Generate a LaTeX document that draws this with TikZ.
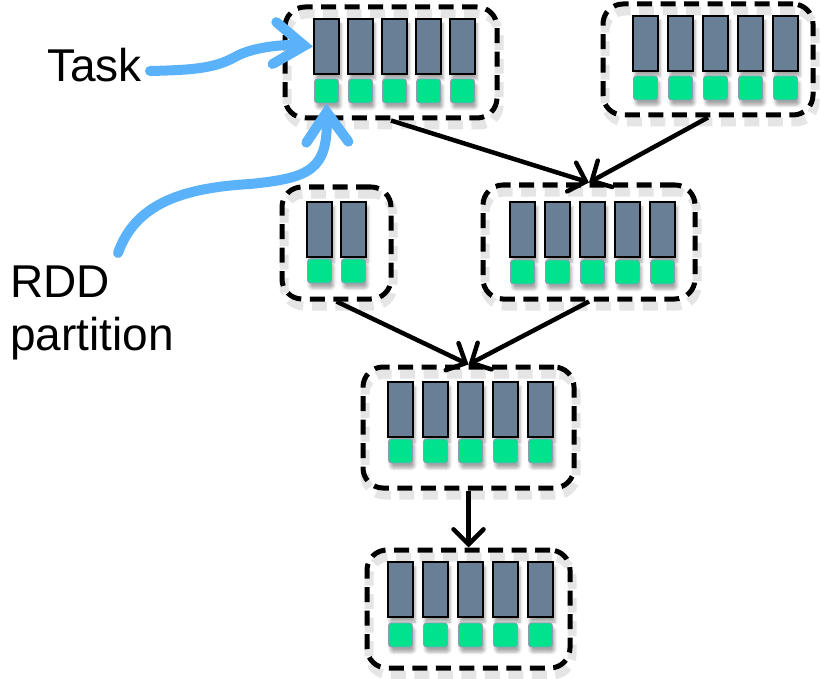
\documentclass[tikz,border=0pt]{standalone}
\usepackage{fontspec}
\setmainfont{Liberation Sans}
\usetikzlibrary{arrows.meta,shadows,shadows.blur}
\definecolor{barc}{HTML}{687F96}
\definecolor{grn}{HTML}{00E28C}
\definecolor{blu}{HTML}{5AB2FA}
\definecolor{grnedge}{HTML}{8A9CB8}
\tikzset{
  grp/.style={draw=black, line width=5pt, dash pattern=on 15pt off 8.5pt,
    rounded corners=20pt, inner sep=0pt,
    preaction={draw=black!10, line width=9pt, dash pattern=on 15pt off 8.5pt,
      transform canvas={shift={(2pt,-7pt)}}}},
  barbox/.style={draw=black, line width=2pt, fill=barc, inner sep=0pt,
    minimum width=25pt, minimum height=55pt,
    blur shadow={shadow xshift=2pt, shadow yshift=-5pt, shadow blur radius=3pt, shadow opacity=35}},
  grnbox/.style={draw=grnedge, line width=0.9pt, fill=grn, rounded corners=3pt,
    inner sep=0pt, minimum width=24pt, minimum height=24pt,
    blur shadow={shadow xshift=2pt, shadow yshift=-5pt, shadow blur radius=3pt, shadow opacity=35}},
  blk/.style={draw=black, line width=4.5pt,
    -{Straight Barb[length=15pt,width=30pt,line cap=round]}},
  bluarrow/.style={draw=blu, line width=10pt, line cap=round,
    -{Straight Barb[length=30pt,width=42pt,line cap=round]}},
  lbl/.style={font=\fontsize{46}{55}\selectfont, inner sep=0pt, anchor=base west}
}
\newcommand\mkparts[6]{%
  \foreach \i in {1,...,#2}{%
    \node[barbox] (#1b\i) at ({#3+12.5+#4*(\i-1)},{#5+27.5}) {};
    \node[grnbox] (#1g\i) at ({#3+12.5+#4*(\i-1)},{#6+12}) {};
  }}
\begin{document}
\begin{tikzpicture}[x=1pt,y=-1pt]
\useasboundingbox (0,0) rectangle (821,679);
% groups
\node[grp, minimum width=212pt, minimum height=111pt] (A) at (391,62.5) {};
\node[grp, minimum width=210pt, minimum height=111pt] (B) at (708,59.5) {};
\node[grp, minimum width=109pt, minimum height=112pt] (C) at (336.5,243) {};
\node[grp, minimum width=212pt, minimum height=114pt] (D) at (589,242) {};
\node[grp, minimum width=211pt, minimum height=121pt] (E) at (468.5,427.5) {};
\node[grp, minimum width=203pt, minimum height=118pt] (F) at (468.5,609) {};
% partitions
\mkparts{A}{5}{314}{34}{19}{79}
\mkparts{B}{5}{633}{35}{16}{76}
\mkparts{C}{2}{307}{34}{202}{259}
\mkparts{D}{5}{510}{35}{202}{260}
\mkparts{E}{5}{388}{35}{382}{439}
\mkparts{F}{5}{388}{35}{562}{623}
% dependency arrows
\draw[blk] (A.south) -- (D.north);
\draw[blk] (B.south) -- (D.north);
\draw[blk] (C.south) -- (E.north);
\draw[blk] (D.south) -- (E.north);
\draw[blk] (E.south) -- (F.north);
% labels
\node[lbl] (task) at (47,82) {Task};
\node[lbl] (rdd) at (10,297) {RDD};
\node[lbl] (part) at (10,350) {partition};
\coordinate (taskstart) at (150,71);
\coordinate (rddstart) at (118,253);
\draw[bluarrow] (taskstart) .. controls (195,70) and (215,68) .. (235,57)
   .. controls (252,47) and (285,44) .. (Ab1.west);
\draw[bluarrow] (rddstart) .. controls (135,205) and (180,188) .. (250,184)
   .. controls (310,178) and (328,170) .. (Ag1.south);
\end{tikzpicture}
\end{document}
